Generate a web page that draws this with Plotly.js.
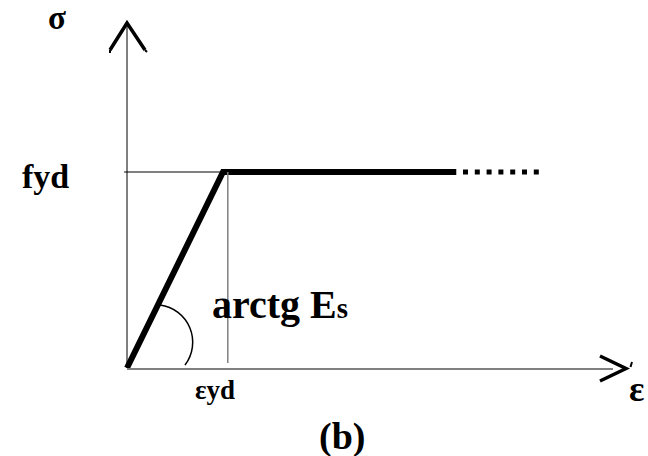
<!DOCTYPE html>
<html>
<head>
<meta charset="utf-8">
<script src="https://cdn.plot.ly/plotly-3.0.1.min.js"></script>
<style>
  html, body { margin: 0; padding: 0; background: #ffffff; }
  #chart { width: 648px; height: 456px; }
</style>
</head>
<body>
<div id="chart"></div>
<script>
// Idealised elastic - perfectly plastic stress-strain law for reinforcing steel.
// Strain is expressed in units of eps_yd, stress in units of f_yd.
const strain = [0, 1, 3.43];          // origin, yield point, end of plastic branch
const stress = [0, 1, 1];
const strainDots = [3.5, 4.29];       // dotted continuation of the plastic branch
const stressDots = [1, 1];
const epsYd = 1;                      // yield strain
const fYd = 1;                        // design yield stress
const epsGuide = 1.05;                // position of the thin vertical guide

const W = 648, H = 456;
// page pixel -> paper fraction
const PX = p => p / W;
const PY = p => 1 - p / H;

const ink = '#000000';
const grey = '#808080';
const serif = 'Liberation Serif, Times New Roman, serif';

// angle marker: circular arc written as two cubic Bezier segments
function arcPath(cx, cy, r, a0, a1) {
  const n = 2, step = (a1 - a0) / n;
  const k = 4 / 3 * Math.tan(step / 4);
  let d = '';
  for (let i = 0; i < n; i++) {
    const ta = a0 + i * step, tb = ta + step;
    const p0 = [cx + r * Math.cos(ta), cy + r * Math.sin(ta)];
    const p3 = [cx + r * Math.cos(tb), cy + r * Math.sin(tb)];
    const p1 = [p0[0] - k * r * Math.sin(ta), p0[1] + k * r * Math.cos(ta)];
    const p2 = [p3[0] + k * r * Math.sin(tb), p3[1] - k * r * Math.cos(tb)];
    if (i === 0) d += `M${PX(p0[0])},${PY(p0[1])}`;
    d += ` C${PX(p1[0])},${PY(p1[1])} ${PX(p2[0])},${PY(p2[1])} ${PX(p3[0])},${PY(p3[1])}`;
  }
  return d;
}
const deg = Math.PI / 180;

const traces = [
  {
    x: strain, y: stress, type: 'scatter', mode: 'lines',
    line: { color: ink, width: 6 }, hoverinfo: 'skip'
  },
  {
    x: strainDots, y: stressDots, type: 'scatter', mode: 'lines',
    line: { color: ink, width: 5, dash: '5px,6.8px' }, hoverinfo: 'skip'
  }
];

const label = (text, x, y, size, extra) => Object.assign({
  text: text, xref: 'paper', yref: 'paper', x: PX(x), y: PY(y),
  xanchor: 'center', yanchor: 'middle', showarrow: false,
  font: { family: serif, size: size, color: ink, weight: 'bold' }
}, extra || {});

const seg = (x0, y0, x1, y1, color, width) => ({
  type: 'line', xref: 'paper', yref: 'paper',
  x0: PX(x0), y0: PY(y0), x1: PX(x1), y1: PY(y1),
  line: { color: color, width: width }
});

const layout = {
  width: W, height: H,
  margin: { l: 0, r: 0, t: 0, b: 0, pad: 0 },
  paper_bgcolor: '#ffffff', plot_bgcolor: '#ffffff',
  showlegend: false,
  xaxis: { range: [-127 / 96, 521 / 96], visible: false, fixedrange: true },
  yaxis: { range: [-88 / 196, 368 / 196], visible: false, fixedrange: true },
  shapes: [
    // sigma axis
    seg(127, 368, 127, 24, ink, 1),
    // epsilon axis
    seg(127, 369, 613, 369, grey, 2),
    // arrow heads
    { type: 'path', xref: 'paper', yref: 'paper',
      path: `M${PX(110)},${PY(50)} L${PX(127)},${PY(23)} L${PX(145)},${PY(50)}`,
      line: { color: ink, width: 3.5 } },
    { type: 'path', xref: 'paper', yref: 'paper',
      path: `M${PX(600)},${PY(356)} L${PX(626)},${PY(368.5)} L${PX(600)},${PY(381)}`,
      line: { color: ink, width: 3.5 } },
    // small pen marks at the arrow ends
    seg(145, 50, 147, 52, ink, 2),
    seg(110, 50, 110, 53, ink, 2),
    seg(632, 362, 630.5, 367, ink, 2),
    // guides to f_yd and eps_yd
    { type: 'line', xref: 'x', yref: 'y', x0: -0.03, y0: fYd, x1: epsYd, y1: fYd,
      line: { color: ink, width: 1 } },
    { type: 'line', xref: 'x', yref: 'y', x0: epsGuide, y0: 0.025, x1: epsGuide, y1: fYd,
      line: { color: grey, width: 1.5 } },
    // angle of the elastic branch
    { type: 'path', xref: 'paper', yref: 'paper',
      path: arcPath(155.2, 342.2, 37.5, -82.6 * deg, 37.4 * deg),
      line: { color: ink, width: 1.5 } }
  ],
  annotations: [
    label('σ', 57, 18, 33),
    label('fyd', 45.5, 176, 34),
    label('arctg E<span style="font-size:29px">s</span>', 210, 304, 40, { xanchor: 'left' }),
    label('εyd', 214.5, 390, 27),
    label('ε', 636, 389, 36),
    label('(b)', 342, 436, 38)
  ]
};

Plotly.newPlot('chart', traces, layout, { staticPlot: true, displayModeBar: false });
</script>
</body>
</html>
